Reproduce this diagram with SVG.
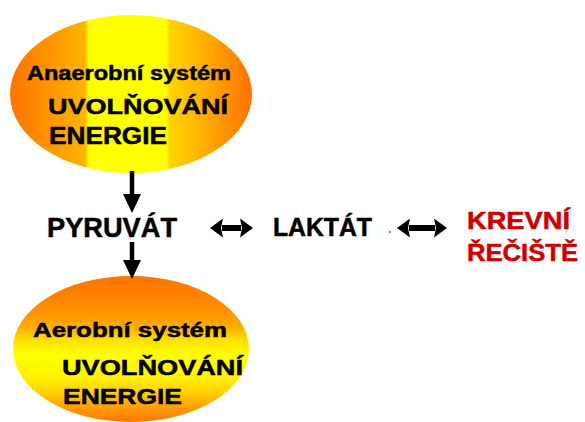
<svg xmlns="http://www.w3.org/2000/svg" width="585" height="422" viewBox="0 0 585 422">
  <defs>
    <!-- warm fill for the anaerobic stage: orange sides, yellow vertical band -->
    <linearGradient id="fillAnaerobic" x1="0" y1="0" x2="1" y2="0">
      <stop offset="0" stop-color="#ff7400"/>
      <stop offset="0.15" stop-color="#ff9200"/>
      <stop offset="0.31" stop-color="#ffb400"/>
      <stop offset="0.325" stop-color="#ffff00"/>
      <stop offset="0.645" stop-color="#ffff00"/>
      <stop offset="0.66" stop-color="#ffd400"/>
      <stop offset="0.8" stop-color="#ffb000"/>
      <stop offset="1" stop-color="#ff7000"/>
    </linearGradient>
    <!-- fill for the aerobic stage: orange top and bottom, yellow middle -->
    <linearGradient id="fillAerobic" x1="0" y1="0" x2="0" y2="1">
      <stop offset="0" stop-color="#ff7400"/>
      <stop offset="0.22" stop-color="#ff8c00"/>
      <stop offset="0.36" stop-color="#ffb000"/>
      <stop offset="0.44" stop-color="#ffe000"/>
      <stop offset="0.54" stop-color="#ffff00"/>
      <stop offset="0.7" stop-color="#fff000"/>
      <stop offset="0.8" stop-color="#ffd000"/>
      <stop offset="0.9" stop-color="#ff9c00"/>
      <stop offset="1" stop-color="#ff7800"/>
    </linearGradient>
    <marker id="headDown" viewBox="0 0 19 18" refX="0" refY="9" markerWidth="19" markerHeight="18" markerUnits="userSpaceOnUse" orient="auto">
      <path d="M0,0 L19,9 L0,18 Z" fill="#000"/>
    </marker>
    <marker id="headSide" viewBox="0 0 13 19" refX="1" refY="9.5" markerWidth="13" markerHeight="19" markerUnits="userSpaceOnUse" orient="auto-start-reverse">
      <path d="M0,0 L13,9.5 L0,19 L2,9.5 Z" fill="#000"/>
    </marker>
    <style>
      .lbl { font-family: "Liberation Sans", Arial, sans-serif; font-weight: bold; fill: #000; stroke: #000; stroke-width: 0.5; }
      .red { fill: #cc0000; stroke: #cc0000; }
      .link { stroke: #000; stroke-width: 4.5; fill: none; }
      .both { stroke-width: 6; }
    </style>
  </defs>

  <rect width="585" height="422" fill="#fff"/>

  <g id="anaerobic">
    <ellipse cx="131" cy="94" rx="121" ry="79" fill="url(#fillAnaerobic)"/>
    <text class="lbl" x="27" y="80" font-size="21" textLength="204" lengthAdjust="spacingAndGlyphs">Anaerobní systém</text>
    <text class="lbl" x="48" y="114" font-size="22" textLength="180" lengthAdjust="spacingAndGlyphs">UVOLŇOVÁNÍ</text>
    <text class="lbl" x="49" y="144" font-size="23" textLength="118" lengthAdjust="spacingAndGlyphs">ENERGIE</text>
  </g>

  <g id="pyruvat">
    <text class="lbl" x="47" y="237" font-size="27" textLength="130" lengthAdjust="spacingAndGlyphs">PYRUVÁT</text>
  </g>

  <g id="laktat">
    <text class="lbl" x="273" y="236" font-size="26" textLength="99" lengthAdjust="spacingAndGlyphs">LAKTÁT</text>
    <circle cx="390" cy="232" r="1.2" fill="#8a8a8a"/>
  </g>

  <g id="krevni-reciste">
    <text class="lbl red" x="467" y="229" font-size="24" textLength="103" lengthAdjust="spacingAndGlyphs">KREVNÍ</text>
    <text class="lbl red" x="467" y="261" font-size="24" textLength="111" lengthAdjust="spacingAndGlyphs">ŘEČIŠTĚ</text>
  </g>

  <g id="aerobic">
    <ellipse cx="131" cy="349" rx="118" ry="73" fill="url(#fillAerobic)"/>
    <text class="lbl" x="33" y="337" font-size="21" textLength="194" lengthAdjust="spacingAndGlyphs">Aerobní systém</text>
    <text class="lbl" x="62" y="375" font-size="22" textLength="181" lengthAdjust="spacingAndGlyphs">UVOLŇOVÁNÍ</text>
    <text class="lbl" x="63" y="404" font-size="22" textLength="119" lengthAdjust="spacingAndGlyphs">ENERGIE</text>
  </g>

  <g id="connectors">
    <line class="link" x1="132" y1="171" x2="132" y2="194" marker-end="url(#headDown)"/>
    <line class="link" x1="132" y1="242" x2="132" y2="260" marker-end="url(#headDown)"/>
    <line class="link both" x1="222" y1="228" x2="241" y2="228" marker-start="url(#headSide)" marker-end="url(#headSide)"/>
    <line class="link both" x1="409" y1="228" x2="435" y2="228" marker-start="url(#headSide)" marker-end="url(#headSide)"/>
  </g>
</svg>
